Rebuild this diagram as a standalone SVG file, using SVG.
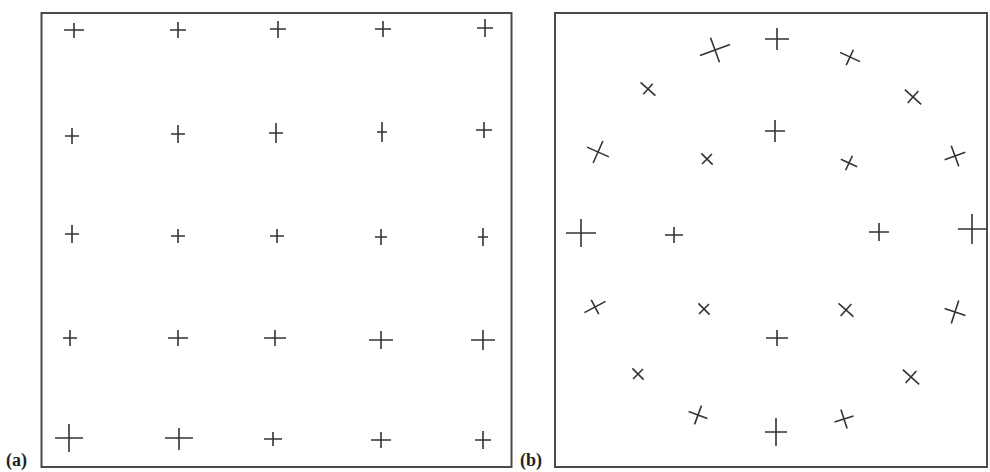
<svg xmlns="http://www.w3.org/2000/svg" width="990" height="472" viewBox="0 0 990 472">
<style>
.frame{fill:none;stroke:#4a4a4a;stroke-width:2}
.c{fill:none;stroke:#333;stroke-width:1.6;stroke-linecap:butt}
.lbl{font-family:"Liberation Serif",serif;font-weight:bold;font-size:18px;fill:#222}
</style>
<rect width="990" height="472" fill="#fff"/>
<g id="panel-a">
<rect class="frame" x="41.5" y="13" width="470" height="454"/>
<g id="a-markers">
<path class="c" transform="translate(74,30)" d="M-10 0H10M0-7V8"/>
<path class="c" transform="translate(178,30)" d="M-8 0H8M0-8V8"/>
<path class="c" transform="translate(278,29)" d="M-8 0H8M0-8V9"/>
<path class="c" transform="translate(383,29)" d="M-8 0H8M0-8V8"/>
<path class="c" transform="translate(485,28)" d="M-8 0H8M0-9V9"/>
<path class="c" transform="translate(72,136)" d="M-7 0H7M0-8V8"/>
<path class="c" transform="translate(178,134)" d="M-7 0H7M0-9V9"/>
<path class="c" transform="translate(276,133)" d="M-7 0H7M0-10V10"/>
<path class="c" transform="translate(382,132)" d="M-5 0H5M0-10V10"/>
<path class="c" transform="translate(484,130)" d="M-8 0H8M0-8V8"/>
<path class="c" transform="translate(72,234)" d="M-7 0H7M0-9V9"/>
<path class="c" transform="translate(178,236)" d="M-7 0H7M0-7V7"/>
<path class="c" transform="translate(277,236)" d="M-7 0H7M0-7V7"/>
<path class="c" transform="translate(381,237)" d="M-6 0H6M0-8V8"/>
<path class="c" transform="translate(483,237)" d="M-5 0H5M0-9V9"/>
<path class="c" transform="translate(70,338)" d="M-7 0H7M0-8V8"/>
<path class="c" transform="translate(178,338)" d="M-10 0H10M0-8V8"/>
<path class="c" transform="translate(275,338)" d="M-11 0H11M0-8V8"/>
<path class="c" transform="translate(381,340)" d="M-12 0H12M0-9V9"/>
<path class="c" transform="translate(483,340)" d="M-12 0H12M0-10V10"/>
<path class="c" transform="translate(69,438)" d="M-14 0H14M0-14V14"/>
<path class="c" transform="translate(179,438)" d="M-14 0H14M0-10V12"/>
<path class="c" transform="translate(273,439)" d="M-9 0H9M0-7V7"/>
<path class="c" transform="translate(381,440)" d="M-10 0H10M0-8V8"/>
<path class="c" transform="translate(483,440)" d="M-8 0H8M0-9V9"/>
</g>
<text class="lbl" x="6" y="466">(a)</text>
</g>
<g id="panel-b">
<rect class="frame" x="555" y="13" width="432" height="454"/>
<g id="b-markers">
<path class="c" transform="translate(715,50) rotate(-20)" d="M-16 0H16M0-13V13"/>
<path class="c" transform="translate(648,89) rotate(42)" d="M-10 0H10M0-7V7"/>
<path class="c" transform="translate(598,152) rotate(24)" d="M-12 0H12M0-12V12"/>
<path class="c" transform="translate(707,159) rotate(45)" d="M-8 0H8M0-7V7"/>
<path class="c" transform="translate(581,233)" d="M-15 0H15M0-14V14"/>
<path class="c" transform="translate(674,235)" d="M-9 0H9M0-8V8"/>
<path class="c" transform="translate(777,39)" d="M-12 0H12M0-11V11"/>
<path class="c" transform="translate(850,57) rotate(25)" d="M-11 0H11M0-8V9"/>
<path class="c" transform="translate(913,97) rotate(42)" d="M-11 0H11M0-8V8"/>
<path class="c" transform="translate(775,131)" d="M-10 0H10M0-11V11"/>
<path class="c" transform="translate(849,163) rotate(25)" d="M-9 0H9M0-8V8"/>
<path class="c" transform="translate(955,156) rotate(-20)" d="M-11 0H11M0-11V11"/>
<path class="c" transform="translate(879,232)" d="M-10 0H10M0-9V9"/>
<path class="c" transform="translate(972,229)" d="M-14 0H14M0-15V15"/>
<path class="c" transform="translate(595,307) rotate(-28)" d="M-12 0H12M0-8V8"/>
<path class="c" transform="translate(704,309) rotate(45)" d="M-8 0H8M0-7V7"/>
<path class="c" transform="translate(638,374) rotate(45)" d="M-8 0H8M0-7V7"/>
<path class="c" transform="translate(698,415) rotate(20)" d="M-10 0H10M0-10V10"/>
<path class="c" transform="translate(846,310) rotate(42)" d="M-10 0H10M0-8V8"/>
<path class="c" transform="translate(955,312) rotate(18)" d="M-11 0H11M0-12V12"/>
<path class="c" transform="translate(777,338)" d="M-11 0H11M0-8V8"/>
<path class="c" transform="translate(911,377) rotate(42)" d="M-11 0H11M0-8V8"/>
<path class="c" transform="translate(844,419) rotate(-18)" d="M-10 0H10M0-10V10"/>
<path class="c" transform="translate(776,432)" d="M-11 0H11M0-14V14"/>
</g>
<text class="lbl" x="520" y="466">(b)</text>
</g>
</svg>
